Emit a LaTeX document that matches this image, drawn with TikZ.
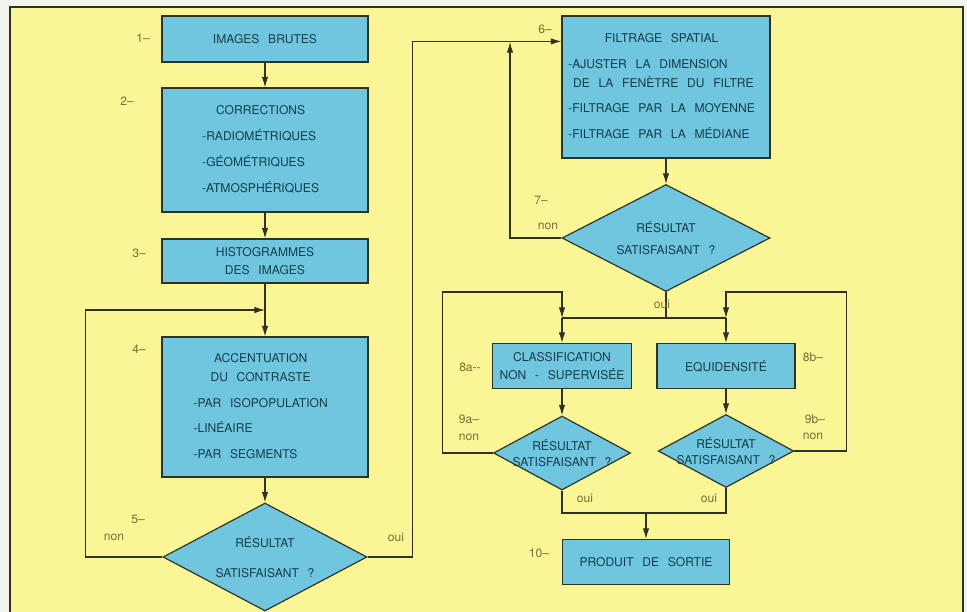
\documentclass[tikz,border=0pt]{standalone}
\usepackage{fontspec}
\setmainfont[WordSpace=2.6]{TeX Gyre Heros}
\usepackage{tikz}
\usetikzlibrary{shapes.geometric,arrows.meta}
\definecolor{paper}{RGB}{250,246,150}
\definecolor{margin}{RGB}{244,244,238}
\definecolor{boxblue}{RGB}{112,198,222}
\definecolor{inkline}{RGB}{45,50,35}
\definecolor{boxtext}{RGB}{20,62,75}
\definecolor{numtext}{RGB}{120,110,55}

\begin{document}
\begin{tikzpicture}[x=0.03cm, y=-0.03cm,
    >={Latex[length=9pt,width=5.5pt]},
    box/.style={draw=inkline, line width=1pt, fill=boxblue, text=boxtext, inner sep=0pt, align=center, font=\fontsize{10.3}{15}\selectfont},
    decision/.style={box, diamond, aspect=1.9, inner sep=-2pt},
    tag/.style={text=numtext, font=\fontsize{10.3}{12}\selectfont},
    flow/.style={draw=inkline, line width=0.9pt}]

    \useasboundingbox (0,0) rectangle (967,612);
    \fill [margin] (0,0) rectangle (967,612);
    \filldraw [fill=paper, draw=inkline, line width=1.5pt] (10,7) rectangle (963,640);

    % left column
    \node [box, minimum width=6.18cm, minimum height=1.38cm] (img_raw) at (265,39) {IMAGES BRUTES};
    \node [box, minimum width=6.18cm, minimum height=3.72cm] (corr) at (265,150)
    {
        \begin{tabular}{@{}l@{}}
        \multicolumn{1}{@{}c@{}}{CORRECTIONS}\\[7pt]
        -RADIOMÉTRIQUES\\[7pt]
        -GÉOMÉTRIQUES\\[7pt]
        -ATMOSPHÉRIQUES
        \end{tabular}
    };
    \node [box, minimum width=6.18cm, minimum height=1.32cm] (histo) at (265,261) {HISTOGRAMMES\\DES IMAGES};
    \node [box, minimum width=6.18cm, minimum height=4.2cm] (contrast) at (265,407)
    {
        \begin{tabular}{@{}l@{}}
        \multicolumn{1}{@{}c@{}}{ACCENTUATION}\\[1pt]
        \multicolumn{1}{@{}c@{}}{DU CONTRASTE}\\[7pt]
        -PAR ISOPOPULATION\\[7pt]
        -LINÉAIRE\\[7pt]
        -PAR SEGMENTS
        \end{tabular}
    };
    \node [decision, minimum width=6.12cm, minimum height=3.24cm] (test_contrast) at (265,557) {RÉSULTAT\\[10pt]SATISFAISANT ?};

    % right column
    \node [box, minimum width=6.24cm, minimum height=4.26cm] (filt) at (666,87)
    {
        \begin{tabular}{@{}l@{}}
        \multicolumn{1}{@{}c@{}}{FILTRAGE SPATIAL}\\[7pt]
        -AJUSTER LA DIMENSION\\[1pt]
        \hspace{4pt}DE LA FENÈTRE DU FILTRE\\[7pt]
        -FILTRAGE PAR LA MOYENNE\\[7pt]
        -FILTRAGE PAR LA MÉDIANE
        \end{tabular}
    };
    \node [decision, minimum width=6.24cm, minimum height=3.21cm] (test_filt) at (666,238) {RÉSULTAT\\[4pt]SATISFAISANT ?};

    \node [box, minimum width=4.17cm, minimum height=1.35cm] (classif) at (562,366) {CLASSIFICATION\\NON - SUPERVISÉE};
    \node [box, minimum width=4.14cm, minimum height=1.35cm] (equi) at (726,366) {EQUIDENSITÉ};
    \node [decision, minimum width=4.11cm, minimum height=2.22cm] (test_classif) at (562,453) {RÉSULTAT\\[-2pt]SATISFAISANT ?};
    \node [decision, minimum width=4.05cm, minimum height=2.19cm] (test_equi) at (726,451) {RÉSULTAT\\[-2pt]SATISFAISANT ?};
    \node [box, minimum width=5.01cm, minimum height=1.35cm] (output) at (646,562) {PRODUIT DE SORTIE};

    \coordinate (join_a) at (265,310);
    \coordinate (filt_in) at ([yshift=-0.78cm]filt.north west);
    \coordinate (back_b) at (510,42);
    \coordinate (split) at (666,318);
    \coordinate (in_a) at (562,318);
    \coordinate (in_b) at (726,318);
    \coordinate (top_a) at (562,292);
    \coordinate (top_b) at (726,292);
    \coordinate (merge) at (646,513);

    \draw [flow, ->] (img_raw) -- (corr);
    \draw [flow, ->] (corr) -- (histo);
    \draw [flow] (histo) -- (join_a);
    \draw [flow, ->] (join_a) -- (contrast);
    \draw [flow, ->] (contrast) -- (test_contrast);
    \draw [flow, ->] (test_contrast.west) -- ++(-77,0) |- (join_a);
    \draw [flow, ->] (test_contrast.east) -- ++(45,0) |- (filt_in);

    \draw [flow, ->] (filt) -- (test_filt);
    \draw [flow, ->] (test_filt.west) -| (back_b);
    \draw [flow] (test_filt.south) -- (split);
    \draw [flow] (in_a) -- (in_b);
    \draw [flow, ->] (in_a) -- (classif);
    \draw [flow, ->] (in_b) -- (equi);
    \draw [flow, ->] (classif) -- (test_classif);
    \draw [flow, ->] (equi) -- (test_equi);
    \draw [flow, ->] (test_classif.west) -- ++(-50,0) |- (top_a) -- (in_a);
    \draw [flow, ->] (test_equi.east) -- ++(52,0) |- (top_b) -- (in_b);
    \draw [flow] (test_classif.south) |- (merge) -| (test_equi.south);
    \draw [flow, ->] (merge) -- (output);

    % step numbers and answers
    \node [tag] (n_1) at (143,38) {1--};
    \node [tag] (n_2) at (127,101) {2--};
    \node [tag] (n_3) at (139,253) {3--};
    \node [tag] (n_4) at (139,349) {4--};
    \node [tag] (n_5) at (138,519) {5--};
    \node [tag] (no_5) at (114,537) {non};
    \node [tag] (yes_5) at (396,537) {oui};
    \node [tag] (n_6) at (545,29) {6--};
    \node [tag] (n_7) at (541,200) {7--};
    \node [tag] (no_7) at (548,226) {non};
    \node [tag] (yes_7) at (662,304) {oui};
    \node [tag] (n_8a) at (470,367) {8a-{}-};
    \node [tag] (n_8b) at (813,357) {8b--};
    \node [tag] (n_9a) at (469,419) {9a--};
    \node [tag] (no_9a) at (469,437) {non};
    \node [tag] (n_9b) at (815,419) {9b--};
    \node [tag] (no_9b) at (813,436) {non};
    \node [tag] (yes_9a) at (585,498) {oui};
    \node [tag] (yes_9b) at (709,498) {oui};
    \node [tag] (n_10) at (539,553) {10--};

\end{tikzpicture}
\end{document}
